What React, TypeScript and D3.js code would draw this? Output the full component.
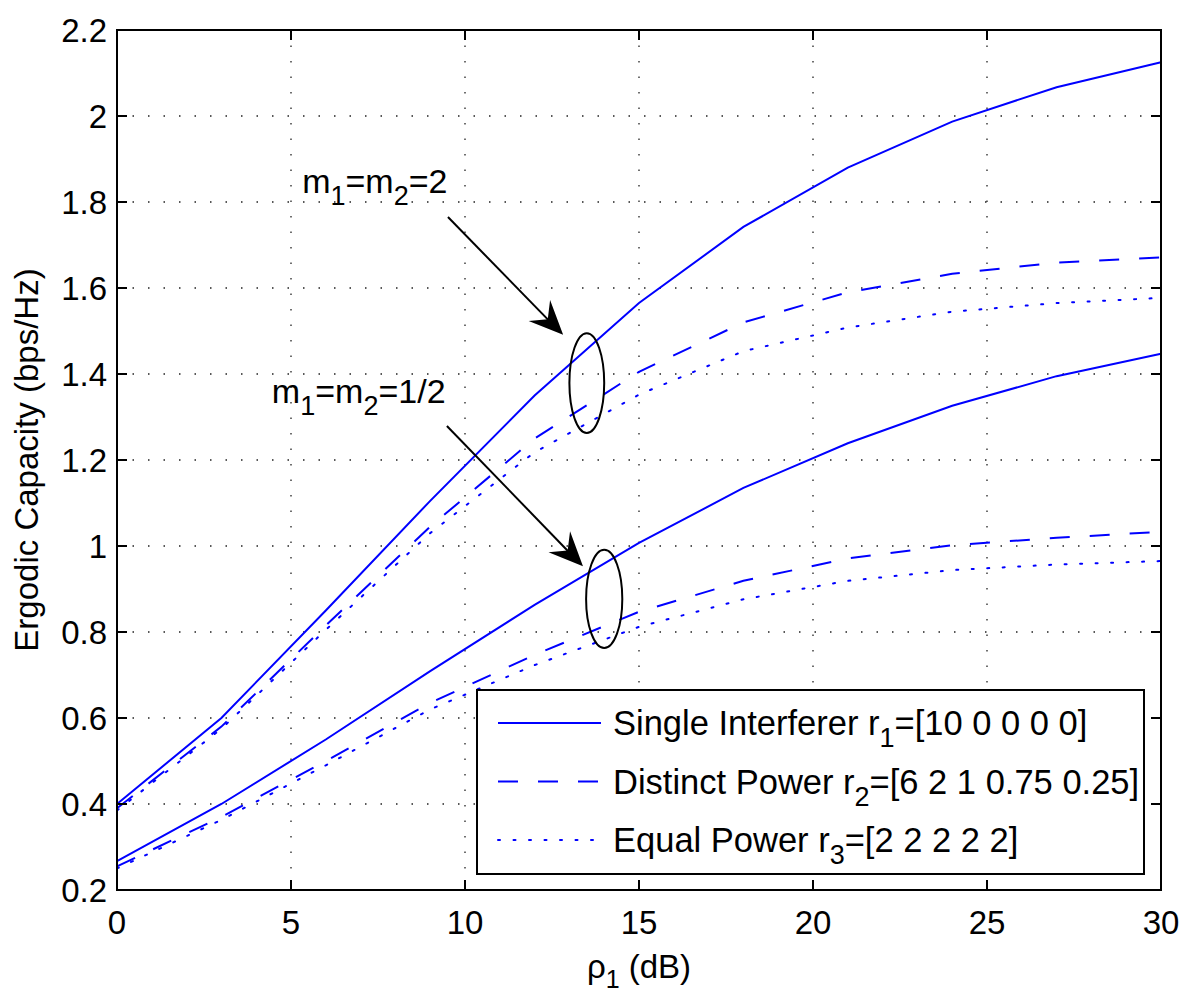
import React from "react";
import * as d3 from "d3";

const xValues = [0, 3, 6, 9, 12, 15, 18, 21, 24, 27, 30];
const singleM2 = [0.4, 0.6, 0.85, 1.105, 1.35, 1.565, 1.742, 1.88, 1.987, 2.067, 2.125];
const distinctM2 = [0.39, 0.58, 0.815, 1.045, 1.25, 1.405, 1.52, 1.59, 1.633, 1.659, 1.671];
const equalM2 = [0.385, 0.575, 0.805, 1.03, 1.218, 1.352, 1.453, 1.508, 1.545, 1.565, 1.577];
const singleMHalf = [0.267, 0.4, 0.55, 0.709, 0.863, 1.007, 1.135, 1.239, 1.326, 1.395, 1.447];
const distinctMHalf = [0.255, 0.37, 0.5, 0.635, 0.747, 0.847, 0.919, 0.971, 1.002, 1.019, 1.033];
const equalMHalf = [0.25, 0.363, 0.49, 0.62, 0.723, 0.812, 0.876, 0.919, 0.944, 0.957, 0.965];

const xTicks = [0, 5, 10, 15, 20, 25, 30];
const yTicks = [0.2, 0.4, 0.6, 0.8, 1, 1.2, 1.4, 1.6, 1.8, 2, 2.2];

const legendLabels = [
  { pre: "Single Interferer r", sub: "1", post: "=[10 0 0 0 0]", style: "solid" },
  { pre: "Distinct Power r", sub: "2", post: "=[6 2 1 0.75 0.25]", style: "dashed" },
  { pre: "Equal Power r", sub: "3", post: "=[2 2 2 2 2]", style: "dotted" },
];

const annotations = [
  { x: 5.32, y: 1.821, pre: "m", s1: "1", mid: "=m", s2: "2", post: "=2", from: [9.51, 1.765], to: [12.82, 1.491], ell: [13.5, 1.379, 0.5, 0.116] },
  { x: 4.45, y: 1.333, pre: "m", s1: "1", mid: "=m", s2: "2", post: "=1/2", from: [9.48, 1.279], to: [13.39, 0.953], ell: [14.0, 0.877, 0.52, 0.114] },
];

const W = 1200;
const H = 1005;
const L = 117, R = 1161, T = 30, B = 890;
const FONT = "'Liberation Sans', Arial, Helvetica, sans-serif";
const BLUE = "#0000ff";
const dashFor: Record<string, string | undefined> = { solid: undefined, dashed: "20,20", dotted: "2,13.5" };

export default function App() {
  const x = d3.scaleLinear().domain([0, 30]).range([L, R]);
  const y = d3.scaleLinear().domain([0.2, 2.2]).range([B, T]);
  const line = d3.line<number>().x((_, i) => x(xValues[i])).y((d) => y(d));

  const series = [
    { v: singleM2, s: "solid" },
    { v: distinctM2, s: "dashed" },
    { v: equalM2, s: "dotted" },
    { v: singleMHalf, s: "solid" },
    { v: distinctMHalf, s: "dashed" },
    { v: equalMHalf, s: "dotted" },
  ];

  const arrowHead = (fx: number, fy: number, tx: number, ty: number) => {
    const dx = tx - fx, dy = ty - fy;
    const len = Math.hypot(dx, dy);
    const ux = dx / len, uy = dy / len;
    const px = -uy, py = ux;
    const hl = 34, hw = 15, notch = 22;
    const bx = tx - ux * hl, by = ty - uy * hl;
    const nx = tx - ux * notch, ny = ty - uy * notch;
    return `M${tx},${ty} L${bx + px * hw},${by + py * hw} L${nx},${ny} L${bx - px * hw},${by - py * hw} Z`;
  };

  return (
    <svg width={W} height={H} style={{ position: "absolute", left: 0, top: 0, background: "#fff" }} fontFamily={FONT}>
      <rect x={0} y={0} width={W} height={H} fill="#fff" />
      {/* grid */}
      {xTicks.slice(1, -1).map((t) => (
        <line key={"gx" + t} x1={x(t)} x2={x(t)} y1={T} y2={B} stroke="#222" strokeWidth={1.3} strokeDasharray="1.5,14" />
      ))}
      {yTicks.slice(1, -1).map((t) => (
        <line key={"gy" + t} x1={L} x2={R} y1={y(t)} y2={y(t)} stroke="#222" strokeWidth={1.3} strokeDasharray="1.5,14" />
      ))}
      {/* series */}
      {series.map((s, i) => (
        <path key={"s" + i} d={line(s.v) || ""} fill="none" stroke={BLUE} strokeWidth={2} strokeDasharray={dashFor[s.s]} strokeLinecap={s.s === "dotted" ? "round" : "butt"} />
      ))}
      {/* ticks */}
      {xTicks.map((t) => (
        <g key={"tx" + t}>
          <line x1={x(t)} x2={x(t)} y1={B} y2={B - 10} stroke="#000" strokeWidth={2} />
          <line x1={x(t)} x2={x(t)} y1={T} y2={T + 10} stroke="#000" strokeWidth={2} />
          <text x={x(t)} y={934} textAnchor="middle" fontSize={33}>{t}</text>
        </g>
      ))}
      {yTicks.map((t) => (
        <g key={"ty" + t}>
          <line x1={L} x2={L + 10} y1={y(t)} y2={y(t)} stroke="#000" strokeWidth={2} />
          <line x1={R} x2={R - 10} y1={y(t)} y2={y(t)} stroke="#000" strokeWidth={2} />
          <text x={107} y={y(t) + 12} textAnchor="end" fontSize={33}>{d3.format("~g")(t)}</text>
        </g>
      ))}
      <rect x={L} y={T} width={R - L} height={B - T} fill="none" stroke="#000" strokeWidth={2} />
      {/* annotations */}
      {annotations.map((a, i) => (
        <g key={"a" + i}>
          <text x={x(a.x)} y={y(a.y)} fontSize={34}>
            {a.pre}
            <tspan fontSize={27} dy={12}>{a.s1}</tspan>
            <tspan dy={-12}>{a.mid}</tspan>
            <tspan fontSize={27} dy={12}>{a.s2}</tspan>
            <tspan dy={-12}>{a.post}</tspan>
          </text>
          <line x1={x(a.from[0])} y1={y(a.from[1])} x2={x(a.to[0]) - 10} y2={y(a.to[1]) - 10} stroke="#000" strokeWidth={2} />
          <path d={arrowHead(x(a.from[0]), y(a.from[1]), x(a.to[0]), y(a.to[1]))} fill="#000" />
          <ellipse cx={x(a.ell[0])} cy={y(a.ell[1])} rx={x(a.ell[2]) - x(0)} ry={y(0.2) - y(0.2 + a.ell[3])} fill="none" stroke="#000" strokeWidth={2} />
        </g>
      ))}
      {/* legend */}
      <rect x={477} y={690} width={667} height={184} fill="#fff" stroke="#000" strokeWidth={2} />
      {legendLabels.map((l, i) => {
        const cy = 723 + i * 58.5;
        return (
          <g key={"l" + i}>
            <line x1={498} x2={601} y1={cy} y2={cy} stroke={BLUE} strokeWidth={2} strokeDasharray={dashFor[l.style]} strokeLinecap={l.style === "dotted" ? "round" : "butt"} />
            <text x={613} y={cy + 12} fontSize={34.5}>
              {l.pre}
              <tspan fontSize={27} dy={12}>{l.sub}</tspan>
              <tspan dy={-12}>{l.post}</tspan>
            </text>
          </g>
        );
      })}
      {/* axis labels */}
      <text x={x(15)} y={978} textAnchor="middle" fontSize={33}>
        ρ<tspan fontSize={25} dy={10}>1</tspan><tspan dy={-10}> (dB)</tspan>
      </text>
      <text transform={`translate(38,${(T + B) / 2}) rotate(-90)`} textAnchor="middle" fontSize={33}>
        Ergodic Capacity (bps/Hz)
      </text>
    </svg>
  );
}
